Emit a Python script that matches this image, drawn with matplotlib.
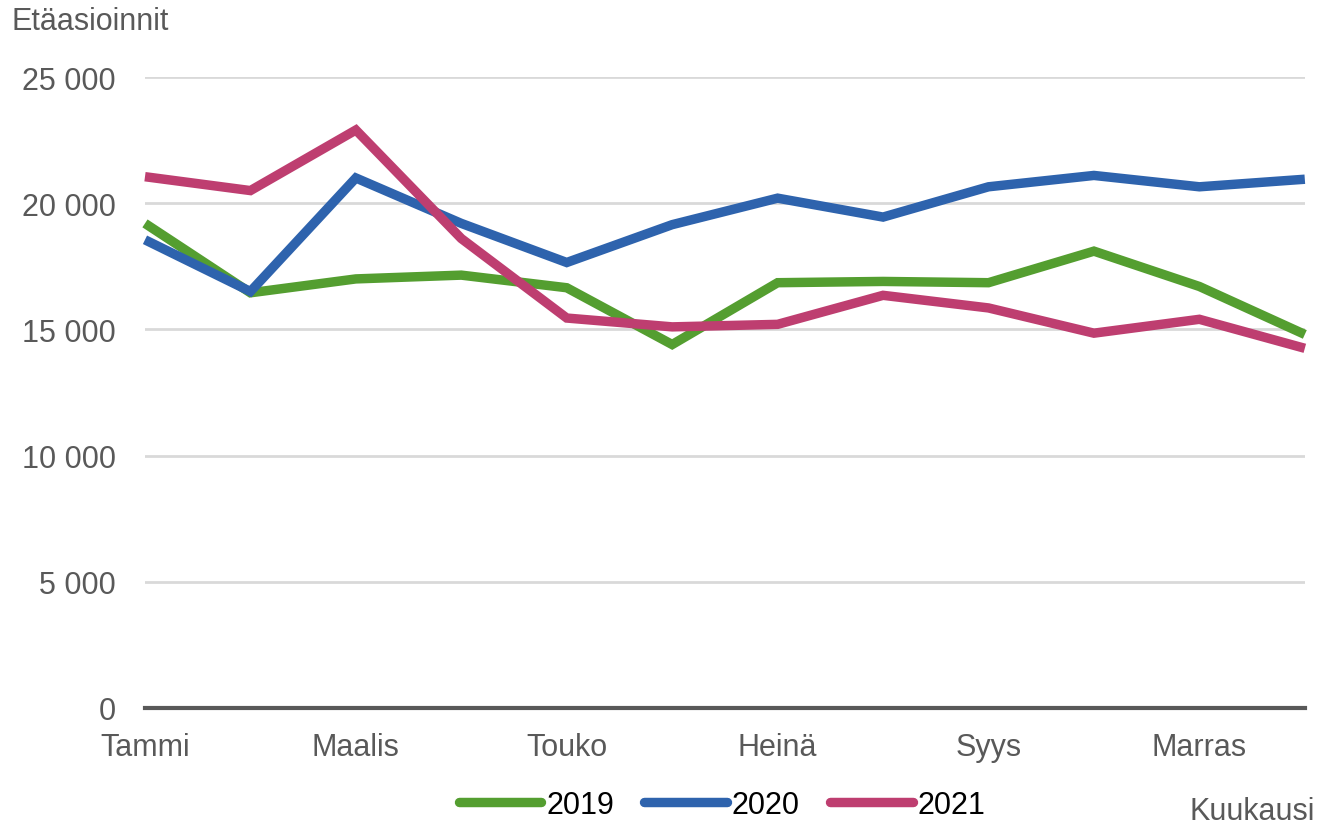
import numpy as np
import matplotlib
matplotlib.use("Agg")
import matplotlib.pyplot as plt
from matplotlib.lines import Line2D

plt.rcParams["font.family"] = ["Liberation Sans", "DejaVu Sans"]

months = ["Tammi", "Helmi", "Maalis", "Huhti", "Touko", "Kesä",
          "Heinä", "Elo", "Syys", "Loka", "Marras", "Joulu"]
y2019 = [19200, 16450, 17000, 17150, 16650, 14400, 16850, 16900, 16850, 18100, 16700, 14800]
y2020 = [18550, 16500, 21000, 19200, 17650, 19150, 20200, 19450, 20650, 21100, 20650, 20950]
y2021 = [21050, 20500, 22900, 18600, 15450, 15100, 15200, 16350, 15850, 14850, 15400, 14250]
years = ["2019", "2020", "2021"]
colors = ["#549E30", "#2E63AD", "#BE3E70"]
GREY = "#595959"

fig = plt.figure(figsize=(13.18, 8.29), dpi=100)
ax = fig.add_axes([0.110, 0.1448, 0.880, 0.7611])

x = np.arange(len(months))
for vals, col, lbl in zip([y2019, y2020, y2021], colors, years):
    ax.plot(x, vals, color=col, lw=6.8, solid_joinstyle="miter",
            solid_capstyle="butt", label=lbl, clip_on=False, zorder=3)

ax.set_xlim(0, 11)
ax.set_ylim(0, 25000)
ax.set_yticks(np.arange(0, 25001, 5000))
ax.set_yticklabels([f"{v:,}".replace(",", " ") for v in range(0, 25001, 5000)])
ax.set_xticks(x[::2])
ax.set_xticklabels(months[::2])
ax.tick_params(axis="y", length=0, pad=21, labelsize=22, labelcolor=GREY)
ax.tick_params(axis="x", length=0, pad=17, labelsize=22, labelcolor=GREY)
ax.grid(axis="y", color="#D9D9D9", lw=2)
ax.set_axisbelow(True)
for s in ["top", "right", "left"]:
    ax.spines[s].set_visible(False)
ax.spines["bottom"].set_color(GREY)
ax.spines["bottom"].set_linewidth(3)
ax.spines["bottom"].set_zorder(2)

fig.text(12/1318, 1 - 22/829, "Etäasioinnit", fontsize=22, color=GREY,
         ha="left", va="center")
fig.text(1315/1318, 1 - 812/829, "Kuukausi", fontsize=22, color=GREY,
         ha="right", va="center")

handles = [Line2D([0], [0], color=c, lw=6.8, solid_capstyle="round") for c in colors]
leg = fig.legend(handles, years, loc="center", bbox_to_anchor=(722/1318, 1 - 806/829),
                 ncol=3, frameon=False, fontsize=22, handlelength=2.7,
                 handletextpad=0.15, columnspacing=1.0)

fig.savefig("out.png", dpi=100)
